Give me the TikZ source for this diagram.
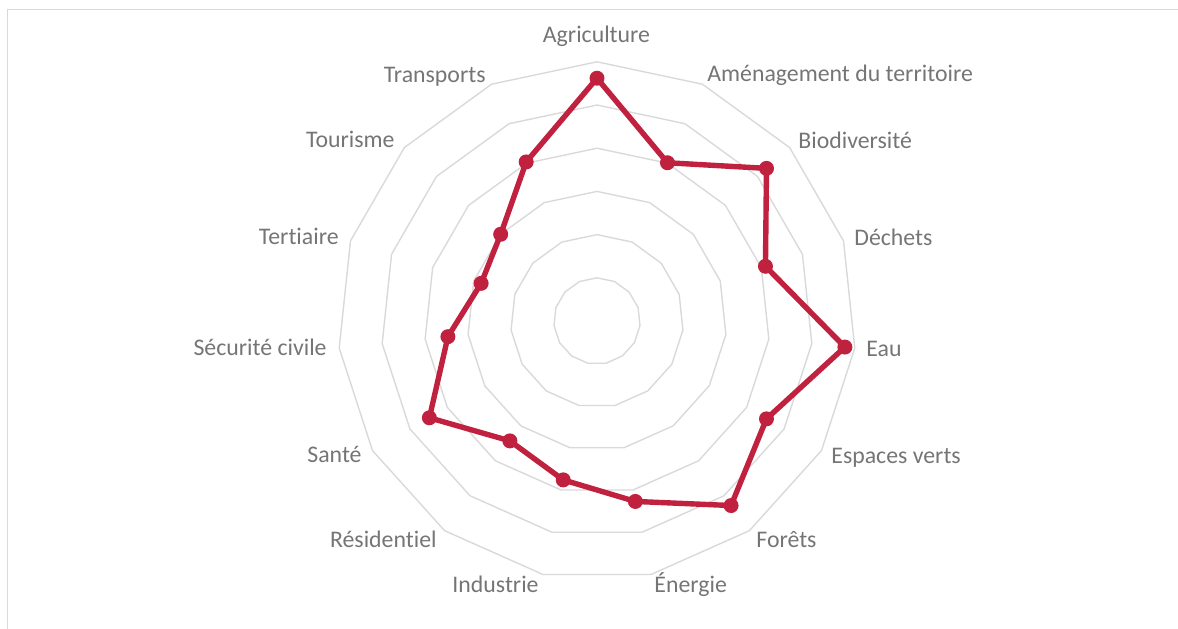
\documentclass[tikz,border=0pt]{standalone}
\usepackage{fontspec}
\setmainfont{Carlito}[Ligatures=NoCommon]
\definecolor{gridgray}{HTML}{D9D9D9}
\definecolor{labelgray}{HTML}{757575}
\definecolor{scorered}{HTML}{C0213F}
\tikzstyle{ring} = [draw=gridgray, line width=0.7pt, line join=round]
\tikzstyle{frame} = [draw=gridgray, line width=0.75pt]
\tikzstyle{axislabel} = [text=labelgray, font=\fontsize{11.9}{14}\selectfont, inner sep=0pt]
\tikzstyle{score} = [draw=scorered, line width=2.7pt, line join=round]
\tikzstyle{dot} = [circle, fill=scorered, inner sep=0pt, minimum size=7.5pt]

\begin{document}
\begin{tikzpicture}[x=0.5pt, y=0.5pt]
\useasboundingbox (-597,-307) rectangle (581,321);
\draw[frame] (-589.5,-310) -- (-589.5,311.5) -- (585,311.5);

% grid
\foreach \k in {1,...,6}
  \draw[ring] (90:\k*43.2) \foreach \i in {1,...,14} {-- ({90-\i*24}:\k*43.2)} -- cycle;

% scores
\foreach \v [count=\i] in {5.62, 4.01, 5.28, 4.10, 5.77, 4.53, 5.28, 4.27,
                           3.76, 3.43, 4.48, 3.47, 2.82, 3.00, 4.03}
  \coordinate (v\i) at ({90-(\i-1)*24}:\v*43.2);
\draw[score] (v1) \foreach \i in {2,...,15} {-- (v\i)} -- cycle;
\foreach \i in {1,...,15}
  \node[dot] (p\i) at (v\i) {};

% labels
\node[axislabel, anchor=base] (agri) at (-0.5,279) {Agriculture};
\node[axislabel, anchor=base west] (amen) at (110,240) {Aménagement du territoire};
\node[axislabel, anchor=base west] (bio) at (201,173) {Biodiversité};
\node[axislabel, anchor=base west] (dech) at (257,76) {Déchets};
\node[axislabel, anchor=base west] (eau) at (269,-35) {Eau};
\node[axislabel, anchor=base west] (esp) at (234,-142) {Espaces verts};
\node[axislabel, anchor=base west] (for) at (159,-226) {Forêts};
\node[axislabel, anchor=base west] (ener) at (57,-271) {Énergie};
\node[axislabel, anchor=base east] (ind) at (-58,-271) {Industrie};
\node[axislabel, anchor=base east] (res) at (-160,-226) {Résidentiel};
\node[axislabel, anchor=base east] (sante) at (-235,-141) {Santé};
\node[axislabel, anchor=base east] (secu) at (-270,-34) {Sécurité civile};
\node[axislabel, anchor=base east] (tert) at (-258,77) {Tertiaire};
\node[axislabel, anchor=base east] (tour) at (-202,174) {Tourisme};
\node[axislabel, anchor=base east] (trans) at (-111,239) {Transports};

\end{tikzpicture}
\end{document}
